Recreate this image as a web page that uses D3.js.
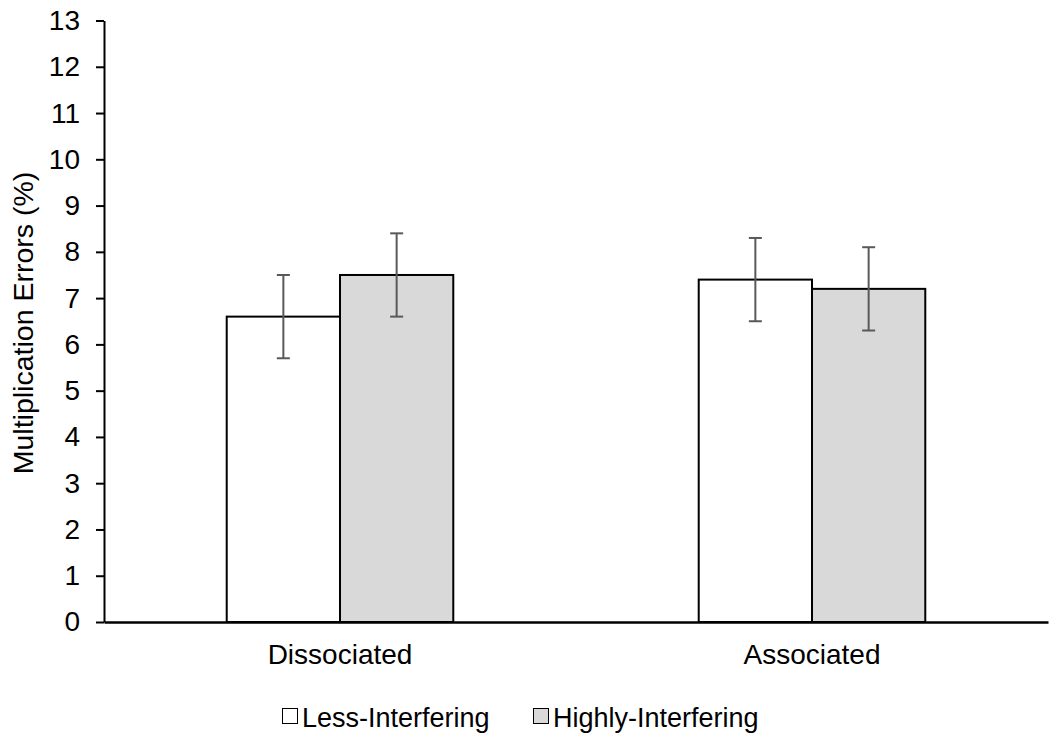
<!DOCTYPE html>
<html lang="en">
	<head>
		<meta charset="utf-8">
		<title>Multiplication Errors</title>
		<script type="text/javascript" src="https://d3js.org/d3.v7.min.js"></script>
		<style type="text/css">
			body {
				margin: 0;
				background: white;
			}
			text {
				font-family: "Liberation Sans", Arial, sans-serif;
				fill: black;
			}
		</style>
	</head>
	<body>
		<script type="text/javascript">

			//Data
			var categories = ["Dissociated", "Associated"];
			var seriesNames = ["Less-Interfering", "Highly-Interfering"];
			var lessValues = [6.6, 7.4];
			var highValues = [7.5, 7.2];
			var lessErr = [0.9, 0.9];
			var highErr = [0.9, 0.9];
			var yTicks = [0, 1, 2, 3, 4, 5, 6, 7, 8, 9, 10, 11, 12, 13];

			var seriesFill = ["#ffffff", "#d9d9d9"];

			//Width and height
			var w = 1063;
			var h = 735;
			var plotLeft = 104, plotRight = 1048, plotTop = 20.5, plotBottom = 622;
			var fontSize = 28;
			var legendFont = 27;

			var svg = d3.select("body")
						.append("svg")
						.attr("width", w)
						.attr("height", h);

			//Scales
			var x0 = d3.scaleBand()
						.domain(categories)
						.range([plotLeft, plotRight])
						.padding(0);

			var groupW = x0.bandwidth() * 0.48;

			var x1 = d3.scaleBand()
						.domain(seriesNames)
						.range([0, groupW])
						.padding(0);

			var yScale = d3.scaleLinear()
						.domain([0, 13])
						.range([plotBottom, plotTop]);

			//Rows for bars
			var rows = [];
			categories.forEach(function(c, i) {
				rows.push({cat: c, s: seriesNames[0], v: lessValues[i], e: lessErr[i], fill: seriesFill[0]});
				rows.push({cat: c, s: seriesNames[1], v: highValues[i], e: highErr[i], fill: seriesFill[1]});
			});

			function barX(d) {
				return x0(d.cat) + (x0.bandwidth() - groupW) / 2 + x1(d.s);
			}

			//Bars
			svg.selectAll("rect.bar")
			   .data(rows)
			   .enter()
			   .append("rect")
			   .attr("class", "bar")
			   .attr("x", barX)
			   .attr("y", function(d) { return yScale(d.v); })
			   .attr("width", x1.bandwidth())
			   .attr("height", function(d) { return yScale(0) - yScale(d.v); })
			   .attr("fill", function(d) { return d.fill; })
			   .attr("stroke", "black")
			   .attr("stroke-width", 2);

			//Error bars
			var errG = svg.selectAll("g.err")
			   .data(rows)
			   .enter()
			   .append("g")
			   .attr("class", "err")
			   .attr("stroke", "#595959")
			   .attr("stroke-width", 2);

			var cx = function(d) { return barX(d) + x1.bandwidth() / 2; };

			errG.append("line")
				.attr("x1", cx).attr("x2", cx)
				.attr("y1", function(d) { return yScale(d.v - d.e); })
				.attr("y2", function(d) { return yScale(d.v + d.e); });

			errG.append("line")
				.attr("x1", function(d) { return cx(d) - 6.5; })
				.attr("x2", function(d) { return cx(d) + 6.5; })
				.attr("y1", function(d) { return yScale(d.v + d.e); })
				.attr("y2", function(d) { return yScale(d.v + d.e); });

			errG.append("line")
				.attr("x1", function(d) { return cx(d) - 6.5; })
				.attr("x2", function(d) { return cx(d) + 6.5; })
				.attr("y1", function(d) { return yScale(d.v - d.e); })
				.attr("y2", function(d) { return yScale(d.v - d.e); });

			//Y axis
			var yAxis = d3.axisLeft()
						.scale(yScale)
						.tickValues(yTicks)
						.tickSize(8)
						.tickPadding(16)
						.tickSizeOuter(0);

			var yG = svg.append("g")
				.attr("transform", "translate(" + plotLeft + ",0)")
				.call(yAxis);
			yG.select(".domain").attr("stroke", "black").attr("stroke-width", 2);
			yG.selectAll(".tick line").attr("stroke", "black").attr("stroke-width", 2);
			yG.selectAll(".tick text")
				.attr("font-family", "Liberation Sans, Arial, sans-serif")
				.attr("font-size", fontSize)
				.attr("fill", "black");

			//X axis
			var xAxis = d3.axisBottom()
						.scale(x0)
						.tickSize(0)
						.tickPadding(22)
						.tickSizeOuter(0);

			var xG = svg.append("g")
				.attr("transform", "translate(0," + plotBottom + ")")
				.call(xAxis);
			xG.select(".domain").attr("stroke", "black").attr("stroke-width", 2.5);
			xG.selectAll(".tick text")
				.attr("font-family", "Liberation Sans, Arial, sans-serif")
				.attr("font-size", fontSize)
				.attr("fill", "black");

			//Y title
			svg.append("text")
				.attr("transform", "translate(33,323) rotate(-90)")
				.attr("text-anchor", "middle")
				.attr("font-size", 28.5)
				.text("Multiplication Errors (%)");

			//Legend
			var legendX = [282, 533];
			var legend = svg.selectAll("g.legend")
				.data(seriesNames)
				.enter()
				.append("g")
				.attr("class", "legend")
				.attr("transform", function(d, i) { return "translate(" + legendX[i] + ",708)"; });

			legend.append("rect")
				.attr("x", 0.5).attr("y", 0.5)
				.attr("width", 15).attr("height", 15)
				.attr("fill", function(d, i) { return seriesFill[i]; })
				.attr("stroke", "black")
				.attr("stroke-width", 1);

			legend.append("text")
				.attr("x", 20)
				.attr("y", 19)
				.attr("font-size", legendFont)
				.text(function(d) { return d; });

		</script>
	</body>
</html>
